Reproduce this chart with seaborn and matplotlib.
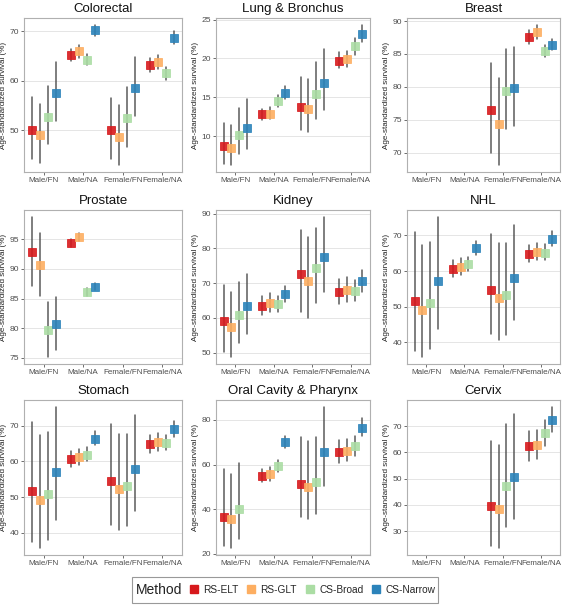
import numpy as np
import pandas as pd
import matplotlib
matplotlib.use("Agg")
import matplotlib.pyplot as plt
from matplotlib.lines import Line2D
from matplotlib.patches import Rectangle
import seaborn as sns

sns.set_theme(style="white")
plt.rcParams['font.family'] = ['Liberation Sans', 'DejaVu Sans']

categories = ["Male/FN", "Male/NA", "Female/FN", "Female/NA"]
methods = ["RS-ELT", "RS-GLT", "CS-Broad", "CS-Narrow"]
colors = ["#d7191c", "#fdae61", "#abdda4", "#2b83ba"]
cancers = ["Colorectal", "Lung & Bronchus", "Breast", "Prostate", "Kidney", "NHL",
           "Stomach", "Oral Cavity & Pharynx", "Cervix"]
N = None

# rows: categories, cols: methods
colorectal_est = [[50.1, 49.0, 52.7, 57.5], [65.3, 66.0, 64.3, 70.2], [50.0, 48.7, 52.4, 58.5], [63.2, 63.8, 61.5, 68.7]]
colorectal_lo = [[44.3, 43.4, 47.3, 51.8], [64.0, 64.7, 63.2, 69.0], [44.2, 43.0, 46.7, 53.0], [61.8, 62.4, 60.2, 67.4]]
colorectal_hi = [[56.7, 55.4, 59.0, 63.9], [66.5, 67.3, 65.5, 71.3], [56.6, 55.1, 58.7, 64.9], [64.6, 65.3, 62.8, 70.0]]

lung_est = [[8.7, 8.5, 10.2, 11.1], [12.8, 12.9, 14.5, 15.6], [13.8, 13.5, 15.4, 16.8], [19.7, 19.9, 21.6, 23.2]]
lung_lo = [[6.4, 6.3, 7.7, 8.4], [12.1, 12.2, 13.7, 14.8], [10.8, 10.6, 12.2, 13.4], [18.8, 18.9, 20.5, 22.1]]
lung_hi = [[11.7, 11.5, 13.6, 14.8], [13.5, 13.7, 15.3, 16.4], [17.6, 17.3, 19.5, 21.2], [20.8, 21.0, 22.6, 24.3]]

breast_est = [[N, N, N, N], [N, N, N, N], [76.4, 74.4, 79.4, 79.8], [87.5, 88.3, 85.4, 86.4]]
breast_lo = [[N, N, N, N], [N, N, N, N], [69.9, 68.1, 73.6, 74.0], [86.5, 87.3, 84.5, 85.6]]
breast_hi = [[N, N, N, N], [N, N, N, N], [83.6, 81.4, 85.7, 86.0], [88.6, 89.4, 86.3, 87.2]]

prostate_est = [[92.8, 90.6, 79.7, 80.7], [94.4, 95.4, 86.1, 87.0], [N, N, N, N], [N, N, N, N]]
prostate_lo = [[87.1, 85.4, 75.1, 76.3], [93.7, 94.7, 85.5, 86.4], [N, N, N, N], [N, N, N, N]]
prostate_hi = [[98.8, 96.1, 84.4, 85.3], [95.1, 96.1, 86.8, 87.7], [N, N, N, N], [N, N, N, N]]

kidney_est = [[59.1, 57.3, 60.8, 63.4], [63.5, 64.3, 63.9, 66.8], [72.5, 70.5, 74.3, 77.5], [67.5, 68.1, 67.7, 70.6]]
kidney_lo = [[50.2, 48.8, 52.9, 55.5], [61.0, 61.6, 61.6, 64.6], [61.7, 60.0, 64.3, 67.6], [64.0, 64.7, 64.8, 67.6]]
kidney_hi = [[69.4, 67.4, 70.2, 72.6], [66.3, 67.1, 66.2, 69.1], [85.4, 83.2, 85.9, 89.0], [71.1, 71.8, 70.9, 73.8]]

nhl_est = [[51.7, 49.1, 50.9, 57.1], [60.6, 61.2, 61.9, 66.4], [54.6, 52.4, 53.2, 58.0], [64.8, 65.4, 65.2, 69.0]]
nhl_lo = [[37.6, 35.8, 38.0, 43.6], [58.3, 59.0, 60.1, 64.5], [42.3, 40.7, 41.9, 46.2], [62.4, 63.0, 63.1, 66.9]]
nhl_hi = [[71.1, 67.4, 68.2, 75.2], [63.0, 63.6, 64.0, 68.4], [70.5, 67.8, 67.8, 73.0], [67.4, 68.0, 67.5, 71.2]]

stomach_est = [[51.7, 49.1, 50.9, 57.1], [60.6, 61.2, 61.9, 66.4], [54.6, 52.4, 53.2, 58.0], [64.8, 65.4, 65.2, 69.0]]
stomach_lo = [[37.6, 35.8, 38.0, 43.6], [58.3, 59.0, 60.1, 64.5], [42.3, 40.7, 41.9, 46.2], [62.4, 63.0, 63.1, 66.9]]
stomach_hi = [[71.1, 67.4, 68.2, 75.2], [63.0, 63.6, 64.0, 68.4], [70.5, 67.8, 67.8, 73.0], [67.4, 68.0, 67.5, 71.2]]

oral_est = [[36.7, 35.5, 40.2, N], [54.9, 55.7, 59.3, 69.9], [51.4, 50.0, 52.3, 65.6], [65.6, 66.2, 68.2, 76.5]]
oral_lo = [[23.4, 22.7, 26.9, N], [52.0, 52.6, 56.6, 67.3], [36.6, 35.8, 37.8, 50.5], [60.8, 61.4, 64.0, 72.6]]
oral_hi = [[57.9, 55.7, 60.5, N], [58.2, 58.8, 62.1, 72.6], [72.1, 70.5, 72.4, 85.7], [70.8, 71.4, 72.8, 80.8]]

cervix_est = [[N, N, N, N], [N, N, N, N], [39.5, 38.4, 47.1, 50.7], [62.3, 62.8, 67.3, 72.2]]
cervix_lo = [[N, N, N, N], [N, N, N, N], [24.3, 23.6, 31.4, 34.6], [56.9, 57.4, 62.5, 67.7]]
cervix_hi = [[N, N, N, N], [N, N, N, N], [64.2, 62.8, 70.7, 74.6], [68.2, 68.6, 72.5, 77.3]]

panel_data = [
    (colorectal_est, colorectal_lo, colorectal_hi),
    (lung_est, lung_lo, lung_hi),
    (breast_est, breast_lo, breast_hi),
    (prostate_est, prostate_lo, prostate_hi),
    (kidney_est, kidney_lo, kidney_hi),
    (nhl_est, nhl_lo, nhl_hi),
    (stomach_est, stomach_lo, stomach_hi),
    (oral_est, oral_lo, oral_hi),
    (cervix_est, cervix_lo, cervix_hi),
]
yticks = [[50, 60, 70], [10, 15, 20, 25], [70, 75, 80, 85, 90], [75, 80, 85, 90, 95],
          [50, 60, 70, 80, 90], [40, 50, 60, 70], [40, 50, 60, 70], [20, 40, 60, 80],
          [30, 40, 50, 60, 70]]

W, H = 567, 606
fig = plt.figure(figsize=(W / 100, H / 100), dpi=100)

lefts = [24, 216, 407]
rights = [182, 370, 560]
tops = [18, 210, 400]
bottoms = [172, 364, 555]

for i, name in enumerate(cancers):
    r, c = divmod(i, 3)
    ax = fig.add_axes([lefts[c] / W, 1 - bottoms[r] / H,
                       (rights[c] - lefts[c]) / W, (bottoms[r] - tops[r]) / H])
    est, lo, hi = panel_data[i]
    rows = []
    for ci, cat in enumerate(categories):
        for mi, m in enumerate(methods):
            if est[ci][mi] is None:
                continue
            for v in (lo[ci][mi], est[ci][mi], hi[ci][mi]):
                rows.append({"cat": cat, "method": m, "value": v})
    df = pd.DataFrame(rows)
    sns.pointplot(data=df, x="cat", y="value", hue="method", order=categories,
                  hue_order=methods, palette=colors, estimator="median",
                  errorbar=("pi", 100), dodge=0.6, linestyle="none", marker="s",
                  markersize=5.6, markeredgewidth=0.6, alpha=0.9, zorder=3,
                  err_kws={"color": "#4a4a4a", "linewidth": 1.1, "zorder": 2},
                  legend=False, ax=ax)
    allv = df["value"].values
    rng = allv.max() - allv.min()
    ax.set_ylim(allv.min() - 0.05 * rng, allv.max() + 0.05 * rng)
    ax.set_xlim(-0.5, 3.5)
    ax.set_yticks(yticks[i])
    ax.set_xlabel("")
    ax.set_ylabel("Age-standardized survival (%)", fontsize=5.8, color="#222222", labelpad=2)
    ax.set_title(name, fontsize=9.5, pad=4, color="#111111")
    ax.grid(axis="y", color="#e5e5e5", linewidth=0.7)
    ax.set_axisbelow(True)
    for s in ax.spines.values():
        s.set_color("#b0b0b0")
        s.set_linewidth(0.8)
    ax.tick_params(axis="y", length=2, width=0.6, color="#555555",
                   labelsize=6.1, labelcolor="#4d4d4d", pad=1.5, left=True)
    ax.tick_params(axis="x", length=2, width=0.6, color="#555555",
                   labelsize=5.8, labelcolor="#4d4d4d", pad=1.5, bottom=True)

# legend box
lx0, lx1, ly0, ly1 = 132, 438, 577, 603
fig.patches.append(Rectangle((lx0 / W, 1 - ly1 / H), (lx1 - lx0) / W, (ly1 - ly0) / H,
                             transform=fig.transFigure, fill=False, edgecolor="#999999",
                             linewidth=0.8))
fig.text(136 / W, 1 - 590 / H, "Method", fontsize=10, va="center", ha="left", color="#222222")
handles = [Line2D([], [], linestyle="none", marker="s", markersize=5.5, color=col,
                  markeredgecolor=col) for col in colors]
fig.legend(handles, methods, loc="center left", bbox_to_anchor=(181 / W, 1 - 590 / H),
           ncol=4, frameon=False, fontsize=7.3, handlelength=1.1, handletextpad=0.35,
           columnspacing=0.75, borderpad=0.2)

fig.savefig("out.png", dpi=100)
